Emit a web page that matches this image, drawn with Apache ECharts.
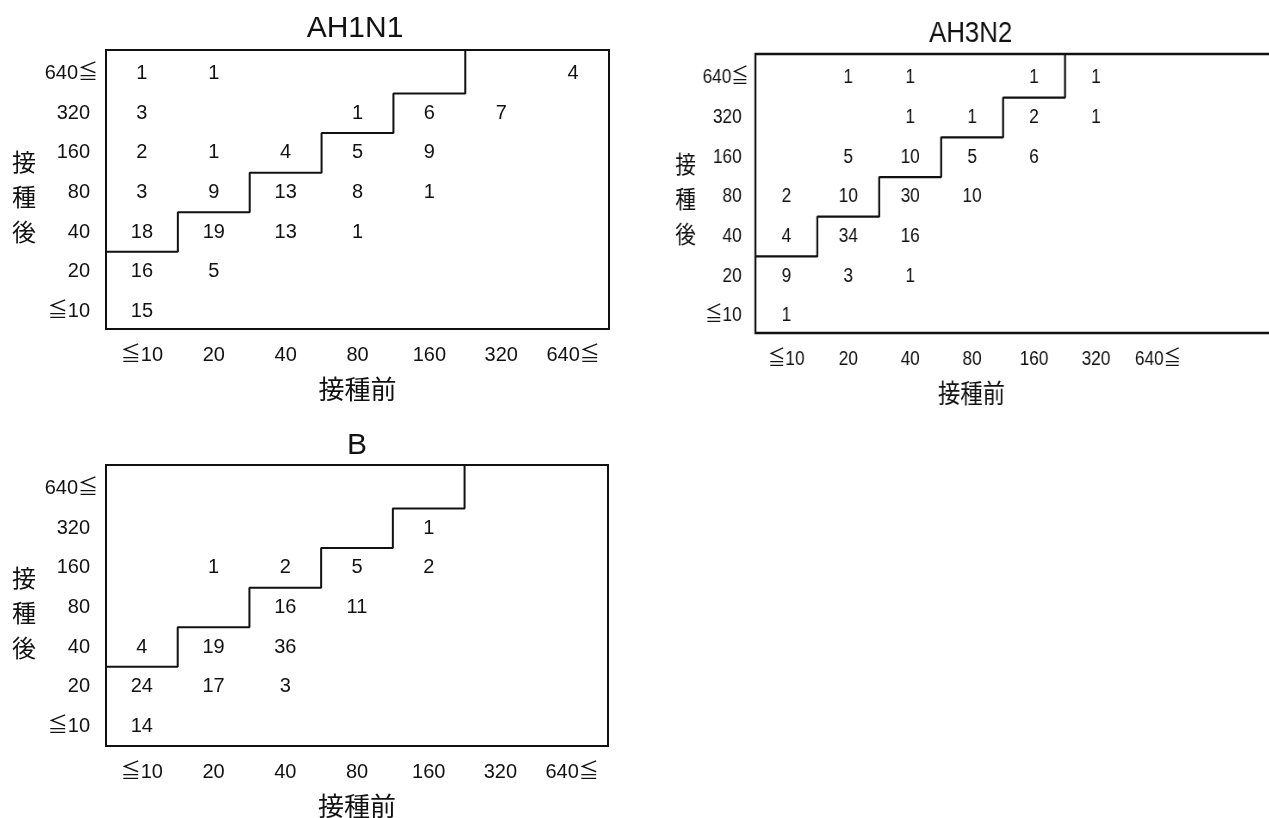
<!DOCTYPE html>
<html>
<head>
<meta charset="utf-8">
<script src="https://cdn.jsdelivr.net/npm/echarts@6/dist/echarts.min.js"></script>
<style>
  html, body { margin: 0; padding: 0; background: #fff; overflow: hidden; }
  #wrap { position: relative; width: 1269px; height: 818px; overflow: hidden; }
  #chart { position: absolute; left: 0; top: 0; width: 1269px; height: 818px; }
  /* the AH3N2 table is set horizontally condensed */
  #chartH3 { position: absolute; left: 640px; top: 0; width: 760px; height: 420px;
             transform-origin: 0 0; transform: scaleX(0.861); }
</style>
</head>
<body>
<div id="wrap">
  <div id="chart"></div>
  <div id="chartH3"></div>
</div>
<script>
// HI titre classes, used for both axes (before = columns, after = rows)
const titreLabels = ['≦10', '20', '40', '80', '160', '320', '640≦'];
const beforeAxisName = '接種前';
const afterAxisName = '接\n種\n後';

// Number of subjects per cell. Rows run from 640≦ (top) down to ≦10,
// columns from ≦10 to 640≦ (pre-vaccination titre). null = empty cell.
const countsH1N1 = [
  [1,    1,    null, null, null, null, 4   ],
  [3,    null, null, 1,    6,    7,    null],
  [2,    1,    4,    5,    9,    null, null],
  [3,    9,    13,   8,    1,    null, null],
  [18,   19,   13,   1,    null, null, null],
  [16,   5,    null, null, null, null, null],
  [15,   null, null, null, null, null, null]
];
const countsH3N2 = [
  [null, 1,    1,    null, 1,    1,    null],
  [null, null, 1,    1,    2,    1,    null],
  [null, 5,    10,   5,    6,    null, null],
  [2,    10,   30,   10,   null, null, null],
  [4,    34,   16,   null, null, null, null],
  [9,    3,    1,    null, null, null, null],
  [1,    null, null, null, null, null, null]
];
const countsB = [
  [null, null, null, null, null, null, null],
  [null, null, null, null, 1,    null, null],
  [null, 1,    2,    5,    2,    null, null],
  [null, null, 16,   11,   null, null, null],
  [4,    19,   36,   null, null, null, null],
  [24,   17,   3,    null, null, null, null],
  [14,   null, null, null, null, null, null]
];

// Lowest post-vaccination row (0 = ≦10) that is a 4-fold rise, per pre-vaccination column
const riseRowByColumn = [2, 3, 4, 5, 6, 7];

const INK = '#111';
const SANS = "'Liberation Sans', 'Noto Sans CJK JP', sans-serif";
const JP_FONT = "'Noto Sans CJK JP', 'Liberation Sans', sans-serif";
const rowIndices = titreLabels.map((_, i) => i);

// turn a top-down count table into [column, row, count] points
function toCells(table) {
  const out = [];
  const top = table.length - 1;
  table.forEach((row, r) => {
    row.forEach((v, c) => {
      if (v !== null) out.push([c, top - r, v]);
    });
  });
  return out;
}

// staircase separating 4-fold rises from the rest, on cell boundaries
function staircase(yMax) {
  const last = titreLabels.length - 1;
  const pts = [[-0.5, riseRowByColumn[0] - 0.5]];
  for (let i = 0; i < riseRowByColumn.length - 1; i++) {
    const x = i + 0.5;
    pts.push([x, riseRowByColumn[i] - 0.5]);
    const next = riseRowByColumn[i + 1];
    if (next > last) { pts.push([x, yMax]); break; }
    pts.push([x, next - 0.5]);
  }
  return pts;
}

// row labels: digits line up on the right, a trailing ≦ hangs past them
const rowLabelFormatter = v => {
  const s = titreLabels[v];
  return s.endsWith('≦') ? s : '{d|' + s + '}';
};

function buildOption(panels) {
  return {
    animation: false,
    title: panels.map(p => ({
      text: p.title, left: p.titleX, top: p.titleTop, padding: 0, textAlign: 'center',
      textStyle: { fontSize: 30, fontWeight: 'normal', color: INK, fontFamily: SANS }
    })),
    grid: panels.map(p => Object.assign({
      show: true, borderColor: INK, borderWidth: p.lineWidth, backgroundColor: 'transparent',
      outerBoundsMode: 'none', containLabel: false
    }, p.grid)),
    xAxis: panels.map((p, i) => ({
      gridIndex: i, type: 'value', min: -0.5, max: p.xMax,
      axisLine: { show: false }, axisTick: { show: false }, splitLine: { show: false },
      axisLabel: {
        customValues: rowIndices, formatter: v => titreLabels[v],
        fontSize: 20, color: INK, fontFamily: SANS, margin: 16
      },
      name: beforeAxisName, nameLocation: 'middle', nameGap: 47, nameMoveOverlap: false,
      nameTextStyle: { fontSize: 26, color: INK, fontFamily: JP_FONT,
                       padding: [0, p.xNamePadRight, 0, 0] }
    })),
    yAxis: panels.map((p, i) => ({
      gridIndex: i, type: 'value', min: p.yMin, max: p.yMax,
      axisLine: { show: false }, axisTick: { show: false }, splitLine: { show: false },
      axisLabel: {
        customValues: rowIndices, formatter: rowLabelFormatter,
        fontSize: 20, color: INK, fontFamily: SANS, margin: 8,
        rich: { d: { fontSize: 20, color: INK, fontFamily: SANS, padding: [0, 8, 0, 0] } }
      },
      // a thin leading line nudges the vertical name below the axis middle
      name: '{gap| }\n' + afterAxisName, nameLocation: 'middle', nameRotate: 0,
      nameGap: p.yNameGap, nameMoveOverlap: false,
      nameTextStyle: { fontSize: 24, lineHeight: 35, color: INK, fontFamily: JP_FONT,
                       rich: { gap: { fontSize: 1, lineHeight: p.yNameShift * 2 } } }
    })),
    series: panels.flatMap((p, i) => [
      {
        type: 'line', xAxisIndex: i, yAxisIndex: i, silent: true,
        data: staircase(p.yMax), showSymbol: false, symbol: 'none',
        lineStyle: { color: INK, width: p.lineWidth }
      },
      {
        type: 'scatter', xAxisIndex: i, yAxisIndex: i, silent: true,
        data: toCells(p.counts), symbolSize: 1,
        itemStyle: { color: 'rgba(0,0,0,0)', opacity: 1 },
        label: {
          show: true, position: 'inside', formatter: d => String(d.value[2]),
          fontSize: 20, color: INK, fontFamily: SANS
        }
      }
    ])
  };
}

const mainPanels = [
  { title: 'AH1N1', counts: countsH1N1, lineWidth: 2,
    grid: { left: 106, top: 50, width: 503, height: 279 },
    xMax: 6.5, yMin: -0.45, yMax: 6.6,
    titleX: 355, titleTop: 14, yNameGap: 70, yNameShift: 7, xNamePadRight: 0 },
  { title: 'B', counts: countsB, lineWidth: 2,
    grid: { left: 106, top: 465, width: 502, height: 281 },
    xMax: 6.5, yMin: -0.5, yMax: 6.6,
    titleX: 357, titleTop: 431, yNameGap: 70, yNameShift: 7, xNamePadRight: 0 }
];

// AH3N2 panel, laid out in its own (condensed) box; the frame runs off the right edge
const h3Panels = [
  { title: 'AH3N2', counts: countsH3N2, lineWidth: 2.3,
    grid: { left: 134, top: 54, width: 620, height: 279 },
    xMax: 8.12, yMin: -0.43, yMax: 6.6,
    titleX: 384, titleTop: 19, yNameGap: 69, yNameShift: 5, xNamePadRight: 118 }
];

echarts.init(document.getElementById('chart'), null, { renderer: 'canvas' })
  .setOption(buildOption(mainPanels));
echarts.init(document.getElementById('chartH3'), null, { renderer: 'canvas' })
  .setOption(buildOption(h3Panels));
</script>
</body>
</html>
